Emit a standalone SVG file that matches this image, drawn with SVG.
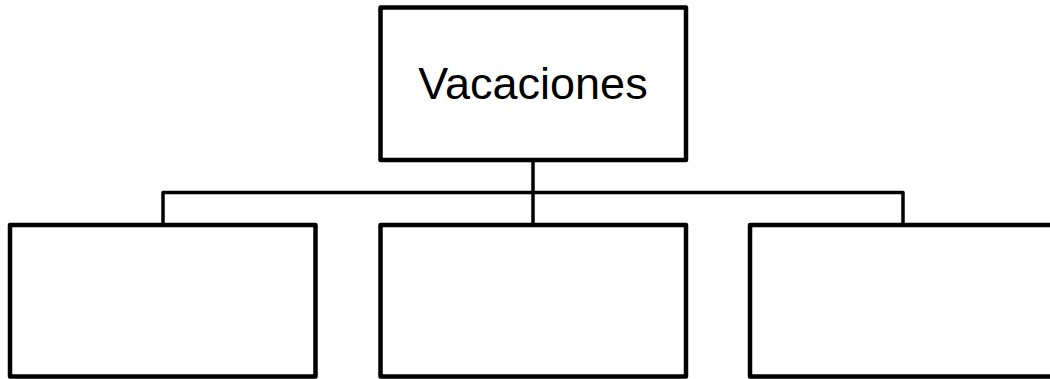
<svg xmlns="http://www.w3.org/2000/svg" width="1050" height="379" viewBox="0 0 1050 379">
<style>
.box{fill:#fff;stroke:#000;stroke-width:4.5;stroke-linejoin:round}
.conn{fill:none;stroke:#000;stroke-width:3.5;stroke-linejoin:round}
.lbl{font-family:"Liberation Sans",Arial,sans-serif;font-size:45px;fill:#000;text-anchor:middle}
</style>
<rect width="1050" height="379" fill="#fff"/>
<g id="connectors">
<path class="conn" d="M533,160 V225"/>
<path class="conn" d="M163,225 V192.5 H903 V225"/>
</g>
<g id="node-vacaciones">
<rect class="box" x="380.5" y="7.5" width="305.5" height="152.5"/>
<text class="lbl" x="533" y="99">Vacaciones</text>
</g>
<g id="node-left">
<rect class="box" x="10" y="225" width="305.5" height="151.5"/>
</g>
<g id="node-middle">
<rect class="box" x="380.5" y="225" width="305.5" height="151.5"/>
</g>
<g id="node-right">
<rect class="box" x="750" y="225" width="305.5" height="151.5"/>
</g>
</svg>
